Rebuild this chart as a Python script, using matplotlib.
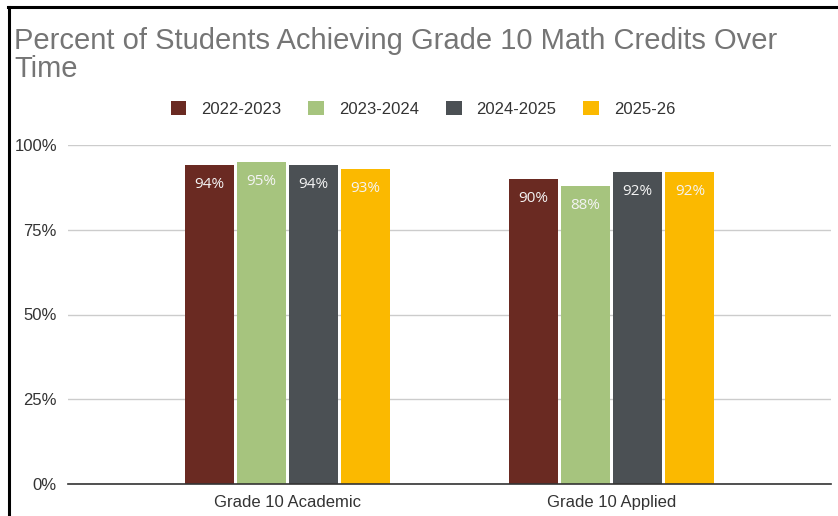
import matplotlib
matplotlib.use("Agg")
import matplotlib.pyplot as plt
import numpy as np
from matplotlib.lines import Line2D
from matplotlib.patches import Patch

categories = ["Grade 10 Academic", "Grade 10 Applied"]
series_names = ["2022-2023", "2023-2024", "2024-2025", "2025-26"]
values_2022_2023 = [94, 90]
values_2023_2024 = [95, 88]
values_2024_2025 = [94, 92]
values_2025_26 = [93, 92]
series_values = [values_2022_2023, values_2023_2024, values_2024_2025, values_2025_26]
colors = ["#6A2A22", "#A6C47E", "#4B5054", "#FBB900"]
yticks = [0, 25, 50, 75, 100]
ytick_labels = ["0%", "25%", "50%", "75%", "100%"]

plt.rcParams['font.family'] = ['Liberation Sans', 'DejaVu Sans']

fig = plt.figure(figsize=(8.38, 5.16), dpi=100)
ax = fig.add_axes([68/838, 1-484/516, (831-68)/838, (484-145)/516])

x = np.arange(len(categories))
bw = 0.151
step = 0.161
offsets = (np.arange(4) - 1.5) * step
for i, (name, vals, c) in enumerate(zip(series_names, series_values, colors)):
    bars = ax.bar(x + offsets[i], vals, width=bw, color=c, zorder=3, label=name)
    for b, v in zip(bars, vals):
        ax.annotate(f"{v}%", (b.get_x() + b.get_width()/2, v), xytext=(0, -14),
                    textcoords="offset points", ha="center", va="center",
                    color="#F4F4F4", fontsize=11, family=["Open Sans", "DejaVu Sans"], zorder=4)

ax.set_xlim(-0.677, 1.677)
ax.set_ylim(0, 100)
ax.set_yticks(yticks)
ax.set_yticklabels(ytick_labels)
ax.set_xticks(x)
ax.set_xticklabels(categories)
ax.tick_params(axis='both', length=0, labelsize=12, colors="#333333")
ax.tick_params(axis='y', pad=8)
ax.tick_params(axis='x', pad=8)
ax.grid(axis='y', color="#CCCCCC", linewidth=1, zorder=0)
for s in ["top", "right", "left"]:
    ax.spines[s].set_visible(False)
ax.spines["bottom"].set_color("#333333")
ax.spines["bottom"].set_linewidth(1.2)
ax.spines["bottom"].set_zorder(5)

fig.text(14/838, 1-55/516, "Percent of Students Achieving Grade 10 Math Credits Over\nTime",
         fontsize=21, color="#757575", ha="left", va="center", linespacing=1.02)

handles = [Patch(facecolor=c, edgecolor='none') for c in colors]
fig.legend(handles, series_names, loc="center", bbox_to_anchor=(423/838, 1-109/516), ncol=4,
           frameon=False, fontsize=12, handlelength=0.95, handleheight=0.95,
           handletextpad=0.9, columnspacing=1.6, labelcolor="#333333")

# screenshot frame lines
fig.add_artist(Line2D([8/838, 1], [1-7/516, 1-7/516], color="black", linewidth=2.2, transform=fig.transFigure))
fig.add_artist(Line2D([9/838, 9/838], [0, 1-7/516], color="black", linewidth=2.2, transform=fig.transFigure))

fig.savefig("out.png", dpi=100)
